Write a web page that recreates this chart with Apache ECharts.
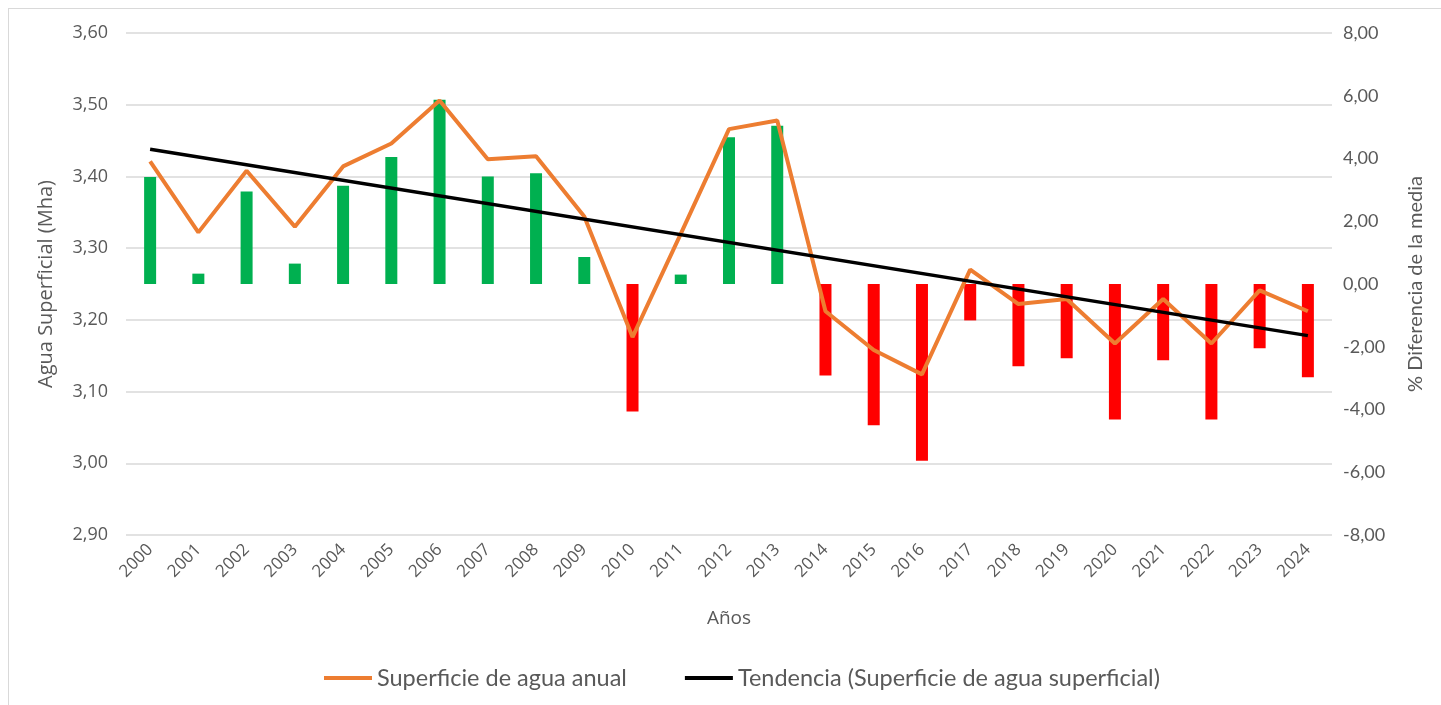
<!DOCTYPE html>
<html>
<head>
<meta charset="utf-8">
<title>Agua superficial</title>
<script src="https://cdn.jsdelivr.net/npm/echarts@6/dist/echarts.min.js"></script>
<style>
  html, body { margin: 0; padding: 0; background: #fff; overflow: hidden; }
  #frame { position: absolute; left: 8px; top: 8px; width: 1500px; height: 800px; border: 1.5px solid #d9d9d9; box-sizing: border-box; }
  #chart { position: absolute; left: 0; top: 0; width: 1441px; height: 705px; }
</style>
</head>
<body>
<div id="frame"></div>
<div id="chart"></div>
<script>
const years = ['2000', '2001', '2002', '2003', '2004', '2005', '2006', '2007', '2008', '2009', '2010', '2011', '2012',
  '2013', '2014', '2015', '2016', '2017', '2018', '2019', '2020', '2021', '2022', '2023', '2024'];

// Superficie de agua anual (Mha), eje izquierdo
const waterSurface = [3.421, 3.322, 3.408, 3.330, 3.414, 3.446, 3.506, 3.424, 3.428, 3.344, 3.176, 3.320, 3.466,
  3.478, 3.212, 3.158, 3.124, 3.270, 3.222, 3.229, 3.167, 3.229, 3.167, 3.241, 3.212];

// % diferencia de la media, eje derecho
const diffFromMean = [3.41, 0.33, 2.95, 0.65, 3.13, 4.05, 5.87, 3.43, 3.53, 0.86, -4.06, 0.30, 4.68,
  5.04, -2.92, -4.50, -5.63, -1.16, -2.62, -2.37, -4.32, -2.43, -4.32, -2.05, -2.97];

// tendencia lineal: solo extremos
const trendLine = years.map(() => null);
trendLine[0] = 3.438;
trendLine[years.length - 1] = 3.178;

const grey = '#595959';
const sansA = '"Open Sans", sans-serif';
const sansB = 'Lato, "Noto Sans", sans-serif';

function comma(value) {
  return value.toFixed(2).replace('.', ',');
}

const chart = echarts.init(document.getElementById('chart'));
chart.setOption({
  animation: false,
  backgroundColor: 'transparent',
  grid: { left: 126, right: 109, top: 33, bottom: 170 },
  legend: {
    top: 661,
    left: 319,
    itemGap: 58,
    itemWidth: 48,
    itemHeight: 4,
    icon: 'rect',
    textStyle: { color: grey, fontFamily: sansB, fontSize: 23.5 },
    data: ['Superficie de agua anual', 'Tendencia (Superficie de agua superficial)'],
  },
  xAxis: {
    type: 'category',
    data: years,
    name: 'Años',
    nameLocation: 'middle',
    nameGap: 74,
    nameTextStyle: { color: grey, fontFamily: sansA, fontSize: 19 },
    axisLine: { show: false },
    axisTick: { show: false },
    axisLabel: { rotate: 45, color: grey, fontFamily: sansA, fontSize: 17, margin: 12 },
  },
  yAxis: [
    {
      type: 'value',
      min: 2.9,
      max: 3.6,
      interval: 0.1,
      name: 'Agua Superficial (Mha)',
      nameLocation: 'middle',
      nameRotate: 90,
      nameGap: 70,
      nameTextStyle: { color: grey, fontFamily: sansA, fontSize: 20 },
      axisLabel: { color: grey, fontFamily: sansA, fontSize: 18, margin: 18, formatter: (v) => comma(v) },
      splitLine: { lineStyle: { color: '#d9d9d9', width: 1.5 } },
    },
    {
      type: 'value',
      min: -8,
      max: 8,
      interval: 2,
      name: '% Diferencia de la media',
      nameLocation: 'middle',
      nameRotate: 90,
      nameGap: 74,
      nameTextStyle: { color: grey, fontFamily: sansB, fontSize: 20 },
      axisLabel: { color: grey, fontFamily: sansB, fontSize: 18, margin: 11, formatter: (v) => comma(v) },
      splitLine: { show: false },
    },
  ],
  series: [
    {
      name: '% Diferencia',
      type: 'bar',
      yAxisIndex: 1,
      data: diffFromMean,
      barWidth: 12,
      itemStyle: { color: (p) => (p.value >= 0 ? '#00b050' : '#ff0000') },
    },
    {
      name: 'Superficie de agua anual',
      type: 'line',
      yAxisIndex: 0,
      data: waterSurface,
      showSymbol: false,
      symbol: 'none',
      lineStyle: { color: '#ed7d31', width: 4 },
      itemStyle: { color: '#ed7d31' },
    },
    {
      name: 'Tendencia (Superficie de agua superficial)',
      type: 'line',
      yAxisIndex: 0,
      data: trendLine,
      connectNulls: true,
      showSymbol: false,
      symbol: 'none',
      lineStyle: { color: '#000', width: 3.5 },
      itemStyle: { color: '#000' },
    },
  ],
});
</script>
</body>
</html>
